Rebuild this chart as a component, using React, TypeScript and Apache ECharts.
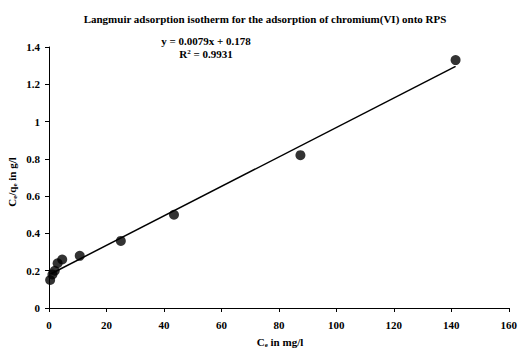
import React, { useEffect, useRef } from "react";
import * as echarts from "echarts";

const titleText = "Langmuir adsorption isotherm for the adsorption of chromium(VI) onto RPS";
const ceValues = [0.4, 1.2, 2.0, 3.0, 4.6, 10.7, 25.0, 43.5, 87.5, 141.5];
const ceqeValues = [0.15, 0.18, 0.2, 0.24, 0.26, 0.28, 0.36, 0.5, 0.82, 1.33];
const slope = 0.0079;
const intercept = 0.178;
const rSquared = "0.9931";
const trendRange = [0.4, 141.5];

const FONT = "'Liberation Serif', 'Times New Roman', serif";

export default function App() {
  const ref = useRef<HTMLDivElement>(null);
  useEffect(() => {
    if (!ref.current) return;
    const chart = echarts.init(ref.current, null, { renderer: "svg" });
    const points = ceValues.map((x, i) => [x, ceqeValues[i]]);
    const trend = trendRange.map((x) => [x, slope * x + intercept]);
    chart.setOption({
      animation: false,
      backgroundColor: "#fff",
      textStyle: { fontFamily: FONT },
      title: {
        text: titleText,
        left: 260,
        top: 8,
        textAlign: "center",
        textStyle: { fontFamily: FONT, fontWeight: "bold", fontSize: 11, color: "#000" },
      },
      graphic: [
        {
          type: "text",
          x: 206,
          y: 35,
          style: {
            text: "y = " + slope + "x + " + intercept,
            fontFamily: FONT,
            fontWeight: "bold",
            fontSize: 11,
            fill: "#000",
            textAlign: "center",
          },
        },
        {
          type: "text",
          x: 206,
          y: 48,
          style: {
            text: "{n|R}{s|2}{n| = " + rSquared + "}",
            textAlign: "center",
            rich: {
              n: { fontFamily: FONT, fontWeight: "bold", fontSize: 11, color: "#000" },
              s: { fontFamily: FONT, fontWeight: "bold", fontSize: 7, color: "#000", padding: [0, 0, 5, 0] },
            },
          },
        },
        {
          type: "text",
          x: 280,
          y: 336,
          style: {
            text: "{n|C}{s|e}{n| in mg/l}",
            textAlign: "center",
            rich: {
              n: { fontFamily: FONT, fontWeight: "bold", fontSize: 11, color: "#000" },
              s: { fontFamily: FONT, fontWeight: "bold", fontSize: 7, color: "#000", padding: [5, 0, 0, 0] },
            },
          },
        },
        {
          type: "text",
          x: 12,
          y: 182,
          rotation: Math.PI / 2,
          style: {
            text: "{n|C}{s|e}{n|/q}{s|e}{n| in g/l}",
            textAlign: "center",
            textVerticalAlign: "middle",
            rich: {
              n: { fontFamily: FONT, fontWeight: "bold", fontSize: 11, color: "#000" },
              s: { fontFamily: FONT, fontWeight: "bold", fontSize: 7, color: "#000", padding: [5, 0, 0, 0] },
            },
          },
        },
      ],
      grid: { left: 49, right: 7, top: 47, bottom: 40 },
      xAxis: {
        type: "value",
        min: 0,
        max: 160,
        interval: 20,
        axisLine: { show: true, lineStyle: { color: "#000", width: 1 } },
        axisTick: { show: true, inside: false, length: 4, lineStyle: { color: "#000" } },
        axisLabel: { fontFamily: FONT, fontWeight: "bold", fontSize: 11, color: "#000", margin: 11 },
        splitLine: { show: false },
      },
      yAxis: {
        type: "value",
        min: 0,
        max: 1.4,
        interval: 0.2,
        axisLine: { show: true, lineStyle: { color: "#000", width: 1 } },
        axisTick: { show: true, inside: false, length: 4, lineStyle: { color: "#000" } },
        axisLabel: { fontFamily: FONT, fontWeight: "bold", fontSize: 11, color: "#000", margin: 9 },
        splitLine: { show: false },
      },
      series: [
        {
          type: "line",
          data: trend,
          symbol: "none",
          lineStyle: { color: "#000", width: 1.5 },
          silent: true,
          z: 1,
        },
        {
          type: "scatter",
          data: points,
          symbol: "circle",
          symbolSize: 10,
          itemStyle: { color: "#000" },
          z: 2,
        },
      ],
    });
    return () => chart.dispose();
  }, []);
  return <div ref={ref} style={{ width: 520, height: 348, position: "absolute", left: 0, top: 0 }} />;
}
